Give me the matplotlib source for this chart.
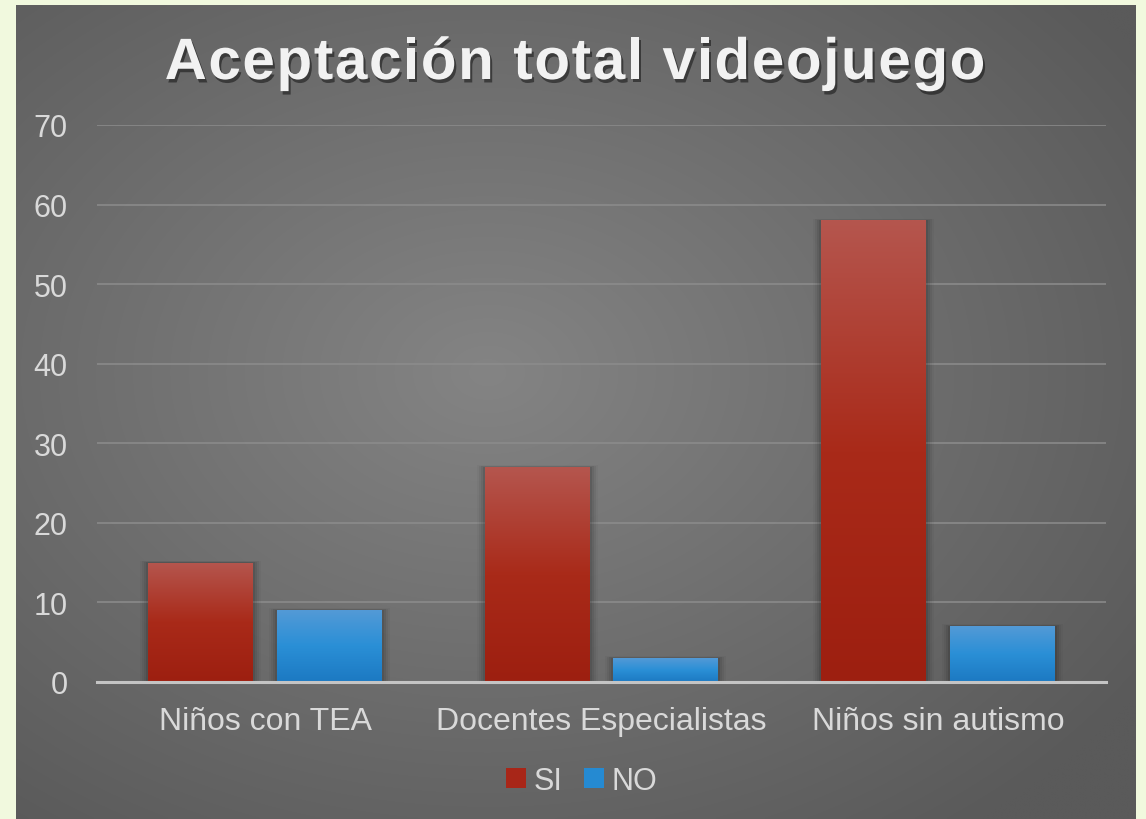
import numpy as np
import matplotlib
matplotlib.use("Agg")
import matplotlib.pyplot as plt
import matplotlib.patheffects as pe
from matplotlib.patches import Rectangle
from matplotlib.colors import LinearSegmentedColormap
from matplotlib.font_manager import FontProperties

categories = ["Niños con TEA", "Docentes Especialistas", "Niños sin autismo"]
series_names = ["SI", "NO"]
si_values = [15, 27, 58]
no_values = [9, 3, 7]
y_ticks = [0, 10, 20, 30, 40, 50, 60, 70]
title = "Aceptación total videojuego"

plt.rcParams['font.family'] = ['Liberation Sans', 'DejaVu Sans']

W, H = 1146, 820
fig = plt.figure(figsize=(W / 100, H / 100), dpi=100)
fig.patch.set_facecolor("#f1f9de")

# dark radial-gradient background panel
bg_ax = fig.add_axes([16 / W, 0, (1136 - 16) / W, 1 - 6 / H], zorder=0)
bg_ax.set_axis_off()
ny, nx = 300, 400
yy, xx = np.mgrid[0:ny, 0:nx]
cx, cy = nx * 0.42, ny * 0.45
r = np.sqrt(((xx - cx) / nx) ** 2 + ((yy - cy) / ny) ** 2) / 0.7
r = np.clip(r, 0, 1)
inner = np.array([0x84, 0x84, 0x84]) / 255
outer = np.array([0x5a, 0x5a, 0x5a]) / 255
img = inner[None, None, :] * (1 - r[..., None]) + outer[None, None, :] * r[..., None]
bg_ax.imshow(img, aspect="auto", extent=[0, 1, 0, 1], interpolation="bilinear")
bg_ax.set_xlim(0, 1)
bg_ax.set_ylim(0, 1)

ax = fig.add_axes([97 / W, 1 - 683 / H, (1106 - 97) / W, (683 - 126) / H], zorder=1)
ax.set_facecolor("none")
ax.patch.set_alpha(0)

x = np.arange(len(categories))
bw = 0.312
gap = 0.071
off = (bw + gap) / 2

red_cmap = LinearSegmentedColormap.from_list("r", ["#9d1f10", "#a92a19", "#b5564e"])
blue_cmap = LinearSegmentedColormap.from_list("b", ["#1c79c2", "#2a8fd6", "#539ad7"])

bars_si = ax.bar(x - off, si_values, bw, color="none", zorder=3)
bars_no = ax.bar(x + off, no_values, bw, color="none", zorder=3)

grad = np.linspace(0, 1, 256).reshape(-1, 1)
for bars, cmap in ((bars_si, red_cmap), (bars_no, blue_cmap)):
    for p in bars:
        x0, y0 = p.get_x(), p.get_y()
        w, h = p.get_width(), p.get_height()
        # soft shadow
        for k, a in enumerate([0.09, 0.07, 0.05, 0.03]):
            d = 0.006 * (k + 1)
            sh = Rectangle((x0 - d, y0), w + d * 2, h + d * 10,
                           facecolor="black", edgecolor="none", alpha=a, zorder=2)
            ax.add_patch(sh)
        im = ax.imshow(grad, cmap=cmap, origin="lower", aspect="auto",
                       extent=[x0, x0 + w, y0, y0 + h], zorder=3,
                       interpolation="bilinear")
        im.set_clip_path(p)

ax.set_xlim(-0.5, len(categories) - 0.5)
ax.set_ylim(0, 70)
ax.set_yticks(y_ticks)
ax.set_yticklabels([str(v) for v in y_ticks])
ax.set_xticks(x)
ax.set_xticklabels(categories)
ax.tick_params(axis="both", length=0, colors="#d9d9d9")
ax.tick_params(axis="y", pad=21, labelsize=22)
ax.tick_params(axis="x", pad=17, labelsize=23)
ax.yaxis.grid(True, color="#8c8c8c", linewidth=1.4, alpha=0.8, zorder=1)
ax.set_axisbelow(True)
for s in ("top", "right", "left"):
    ax.spines[s].set_visible(False)
ax.spines["bottom"].set_color("#c4c4c4")
ax.spines["bottom"].set_linewidth(2.2)
ax.spines["bottom"].set_zorder(4)

# title with letter spacing
renderer = fig.canvas.get_renderer()
fp = FontProperties(family=['Liberation Sans', 'DejaVu Sans'], weight="bold", size=42)
spacing = 1.6  # px extra per character
bar_w = renderer.get_text_width_height_descent("|", fp, ismath=False)[0]
positions = []
for i in range(len(title)):
    wpref = renderer.get_text_width_height_descent(title[:i] + "|", fp, ismath=False)[0] - bar_w
    positions.append(wpref + i * spacing)
total = renderer.get_text_width_height_descent(title, fp, ismath=False)[0] + (len(title) - 1) * spacing
x_start = 575 - total / 2
for ch, px in zip(title, positions):
    if ch == " ":
        continue
    fig.text((x_start + px) / W, 1 - 80 / H, ch, ha="left", va="baseline",
             fontproperties=fp, color="#f2f2f2",
             path_effects=[pe.withSimplePatchShadow(offset=(1.5, -2.5), shadow_rgbFace="black", alpha=0.45)])

# legend
handles = [Rectangle((0, 0), 1, 1, facecolor="#a82618"),
           Rectangle((0, 0), 1, 1, facecolor="#258ad2")]
leg = fig.legend(handles, series_names, loc="center", bbox_to_anchor=(582 / W, 1 - 782 / H),
                 ncol=2, frameon=False, fontsize=22, handlelength=0.65, handleheight=0.65,
                 handletextpad=0.25, columnspacing=0.7, labelcolor="#d9d9d9")

fig.savefig("out.png", dpi=100, facecolor=fig.get_facecolor())
